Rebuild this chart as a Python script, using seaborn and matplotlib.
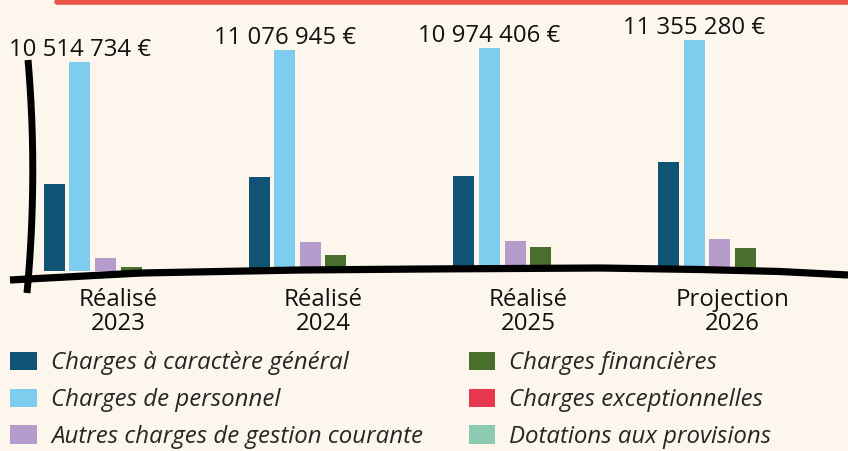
import numpy as np
import pandas as pd
import seaborn as sns
import matplotlib.pyplot as plt
from matplotlib.lines import Line2D
from matplotlib.patches import Patch

# data (euros)
periods = ["Réalisé\n2023", "Réalisé\n2024", "Réalisé\n2025", "Projection\n2026"]
series = ["Charges à caractère général", "Charges de personnel",
          "Autres charges de gestion courante", "Charges financières",
          "Charges exceptionnelles", "Dotations aux provisions"]
charges_generales = [2650000, 2870000, 2900000, 3320000]
charges_personnel = [6370000, 6740000, 6800000, 7050000]
autres_charges = [400000, 880000, 920000, 980000]
charges_financieres = [120000, 490000, 730000, 700000]
charges_exceptionnelles = [10000, 7000, 4000, 5000]
dotations = [0, 0, 0, 0]
totals = ["10 514 734 €", "11 076 945 €", "10 974 406 €", "11 355 280 €"]

colors = ["#0f5474", "#7fcdee", "#b59ccc", "#4a6e2b", "#e8384f", "#8ccbb2"]
bg = "#fdf6ec"

values = [charges_generales, charges_personnel, autres_charges,
          charges_financieres, charges_exceptionnelles, dotations]
rows = []
for name, vals in zip(series, values):
    for p, v in zip(periods, vals):
        rows.append({"periode": p, "poste": name, "montant": v})
df = pd.DataFrame(rows)

sns.set_theme(style="white")
plt.rcParams["font.family"] = ["Open Sans", "DejaVu Sans"]

fig = plt.figure(figsize=(8.48, 4.51), dpi=100, facecolor=bg)
W, H = 848, 451
ax = fig.add_axes([16 / W, 1 - 271 / H, (835 - 16) / W, 251 / H])
ax.set_facecolor(bg)

sns.barplot(data=df, x="periode", y="montant", hue="poste", hue_order=series,
            order=periods, palette=colors, saturation=1, gap=0.18, width=0.75,
            linewidth=0, legend=False, ax=ax, zorder=2)

ax.set_xlim(-0.5, 3.5)
ax.set_ylim(0, 251 * 30500)
ax.set_xlabel("")
ax.set_ylabel("")
ax.set_yticks([])
ax.tick_params(axis="x", length=0, pad=12, labelsize=17.3, colors="#111111")
for lab in ax.get_xticklabels():
    lab.set_linespacing(1.02)
for s in ax.spines.values():
    s.set_visible(False)

# totals above the personnel bar
for i, (t, v) in enumerate(zip(totals, charges_personnel)):
    ax.annotate(t, (i - 0.1875, v), xytext=(0, 0), textcoords="offset points",
                ha="center", va="bottom", fontsize=17.3, color="#111111")

# hand drawn axes (pixel positions of the strokes)
def px(xs, ys):
    return [x / W for x in xs], [1 - y / H for y in ys]

base_x = [10, 141, 300, 424, 600, 700, 780, 848]
base_y = [280, 273, 270, 269, 268, 269.5, 271.5, 275]
hx = np.linspace(10, 848, 120)
fx, fy = px(hx, np.interp(hx, base_x, base_y))
fig.add_artist(Line2D(fx, fy, color="black", lw=5.2, solid_capstyle="butt",
                      solid_joinstyle="round", zorder=5))

t = np.linspace(0, 1, 40)
vx = (1 - t) ** 2 * 28 + 2 * (1 - t) * t * 38 + t ** 2 * 27
vy = (1 - t) ** 2 * 60 + 2 * (1 - t) * t * 175 + t ** 2 * 293
fx, fy = px(vx, vy)
fig.add_artist(Line2D(fx, fy, color="black", lw=5.0, solid_capstyle="butt", zorder=5))

# red rule at the top
fx, fy = px([57, 848], [1.5, 1.5])
fig.add_artist(Line2D(fx, fy, color="#e95545", lw=4))

handles = [Patch(facecolor=c, edgecolor="none") for c in colors]
fig.legend(handles, series, loc="upper left", bbox_to_anchor=(10 / W, 1 - 351 / H),
           ncol=2, frameon=False, borderpad=0, borderaxespad=0,
           handlelength=1.12, handleheight=0.79, handletextpad=0.58,
           labelspacing=0.54, columnspacing=1.9,
           prop={"style": "italic", "size": 17.3})

fig.savefig("out.png", dpi=100, facecolor=bg)
